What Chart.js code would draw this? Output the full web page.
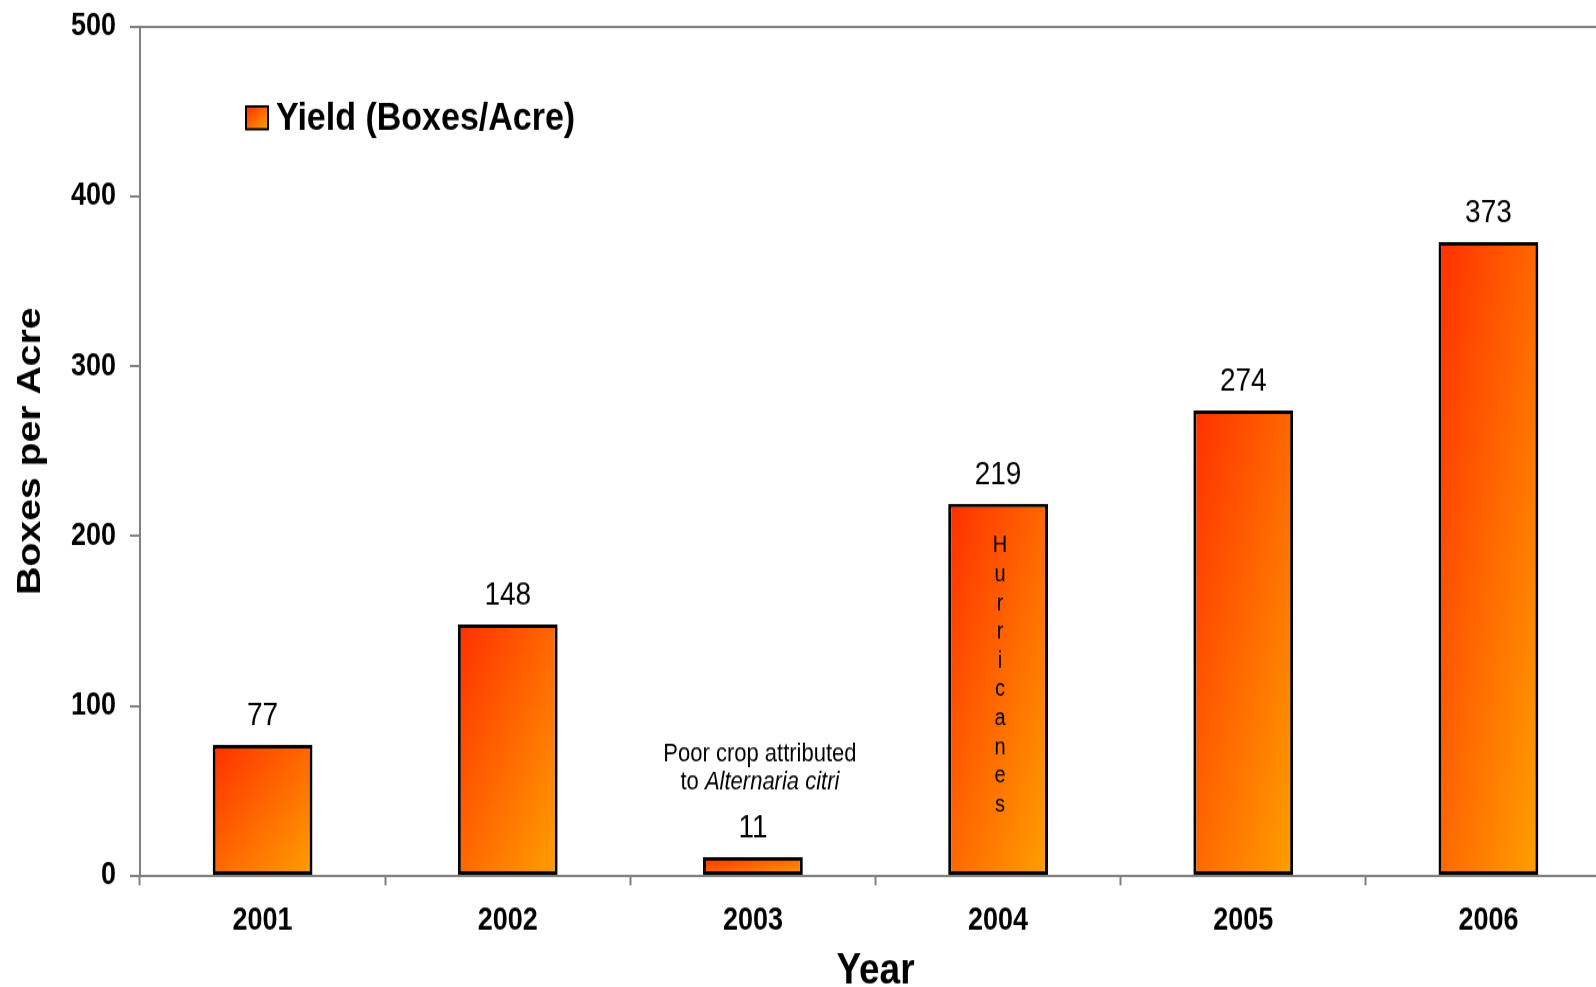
<!DOCTYPE html>
<html>
<head>
<meta charset="utf-8">
<title>Yield (Boxes/Acre)</title>
<script src="https://cdn.jsdelivr.net/npm/chart.js@4/dist/chart.umd.min.js"></script>
<style>
    body { margin: 0; background: #fff; overflow: hidden; }
    /* drawn at 844 px high and stretched to 987 so the lettering comes out tall */
    canvas { display: block; width: 1611px; height: 987px; }
</style>
</head>
<body>
<canvas id="yield_chart" width="1611" height="844" style="width:1611px;height:987px"></canvas>
<script>
var years = ['2001', '2002', '2003', '2004', '2005', '2006'];
var yieldValues = [77, 148, 11, 219, 274, 373];
var yTicks = [0, 100, 200, 300, 400, 500];
var legendLabel = 'Yield (Boxes/Acre)';
var noteLine1 = 'Poor crop attributed';
var noteLine2 = ['to ', 'Alternaria citri'];
var hurricaneWord = 'Hurricanes';

var FONT = "'Liberation Sans', Arial, sans-serif";
var barPct = 0.407;

// diagonal fill: top-left red to bottom-right orange, box-normalised
function barGradient(c, x0, y0, x1, y1) {
    var w = x1 - x0, h = y1 - y0;
    var k = 2 * w * h / (w * w + h * h || 1);
    var g = c.createLinearGradient(x0, y0, x0 + h * k, y0 + w * k);
    g.addColorStop(0, '#ff3000');
    g.addColorStop(1, '#ffa000');
    return g;
}

var extras = {
    id: 'extras',
    afterDatasetsDraw: function(chart) {
        var c = chart.ctx;
        var bars = chart.getDatasetMeta(0).data;
        c.save();
        c.fillStyle = '#000';
        c.textAlign = 'center';
        c.textBaseline = 'middle';

        // value labels
        c.font = '28px ' + FONT;
        bars.forEach(function(bar, i) {
            c.fillText(String(yieldValues[i]), bar.x, bar.y - 25);
        });

        // vertical word inside the 2004 bar
        var hb = bars[years.indexOf('2004')];
        c.font = '20px ' + FONT;
        for (var j = 0; j < hurricaneWord.length; j++) {
            c.fillText(hurricaneWord[j], hb.x + 2, hb.y + 36 + j * 24.6);
        }

        // note over the 2003 bar
        var nb = bars[years.indexOf('2003')];
        var nx = nb.x + 7;
        c.font = '22px ' + FONT;
        c.fillText(noteLine1, nx, nb.y - 88);
        var w1 = c.measureText(noteLine2[0]).width;
        c.font = 'italic 22px ' + FONT;
        var w2 = c.measureText(noteLine2[1]).width;
        var sx = nx - (w1 + w2) / 2;
        c.textAlign = 'left';
        c.font = '22px ' + FONT;
        c.fillText(noteLine2[0], sx, nb.y - 64);
        c.font = 'italic 22px ' + FONT;
        c.fillText(noteLine2[1], sx + w1, nb.y - 64);

        // legend inside the plot
        c.fillStyle = barGradient(c, 246, 91, 268, 110);
        c.fillRect(246, 91, 22, 19.5);
        c.strokeStyle = '#000';
        c.lineWidth = 2;
        c.strokeRect(246, 91, 22, 19.5);
        c.fillStyle = '#000';
        c.font = 'bold 34px ' + FONT;
        c.fillText(legendLabel, 276, 101.5);
        c.restore();
    }
};

var chart_data = {
    labels: years,
    datasets: [{
        label: legendLabel,
        data: yieldValues,
        backgroundColor: function(ctx) {
            var chart = ctx.chart;
            if (!chart.chartArea || ctx.type !== 'data' || !chart.scales.x) return '#ff6600';
            var xs = chart.scales.x, ys = chart.scales.y;
            var cx = xs.getPixelForValue(ctx.dataIndex);
            var half = xs.width / years.length * barPct / 2;
            return barGradient(chart.ctx, cx - half, ys.getPixelForValue(ctx.raw),
                cx + half, ys.getPixelForValue(0));
        },
        borderColor: '#000',
        borderWidth: 3,
        borderSkipped: false,
        categoryPercentage: 1,
        barPercentage: barPct
    }]
};

var graph = new Chart(document.getElementById('yield_chart'), {
    type: 'bar',
    data: chart_data,
    plugins: [extras],
    options: {
        responsive: false,
        animation: false,
        devicePixelRatio: 1,
        layout: { padding: { left: 0, right: 0, top: 22.5, bottom: 0 } },
        plugins: {
            legend: { display: false },
            tooltip: { enabled: false }
        },
        scales: {
            x: {
                offset: true,
                grid: {
                    offset: true,
                    color: 'rgba(0,0,0,0)',
                    tickColor: '#808080',
                    tickLength: 8,
                    tickWidth: 2
                },
                border: { color: '#808080', width: 2 },
                ticks: {
                    color: '#000',
                    padding: 14,
                    maxRotation: 0,
                    font: { family: FONT, size: 27, weight: 'bold' }
                },
                title: {
                    display: true,
                    text: 'Year',
                    color: '#000',
                    padding: { top: 0, bottom: 0 },
                    font: { family: FONT, size: 37, weight: 'bold', lineHeight: 0.7 }
                },
                afterFit: function(scale) { scale.height = 95; }
            },
            y: {
                min: 0,
                max: 500,
                afterBuildTicks: function(scale) {
                    scale.ticks = yTicks.map(function(v) { return { value: v }; });
                },
                grid: {
                    color: function(ctx) {
                        return ctx.tick && ctx.tick.value === 500 ? '#808080' : 'rgba(0,0,0,0)';
                    },
                    lineWidth: 2,
                    tickColor: '#808080',
                    tickLength: 10,
                    tickWidth: 2
                },
                border: { color: '#808080', width: 2 },
                ticks: {
                    color: '#000',
                    padding: 14,
                    font: { family: FONT, size: 27, weight: 'bold' }
                },
                title: {
                    display: true,
                    text: 'Boxes per Acre',
                    color: '#000',
                    padding: { top: 14, bottom: 14 },
                    font: { family: FONT, size: 33.5, weight: 'bold', lineHeight: 1 }
                },
                afterFit: function(scale) {
                    scale.width = 140;
                    // let the layout padding alone set the top of the plot
                    scale.paddingTop = 0;
                    scale.paddingBottom = 0;
                }
            }
        }
    }
});
</script>
</body>
</html>
